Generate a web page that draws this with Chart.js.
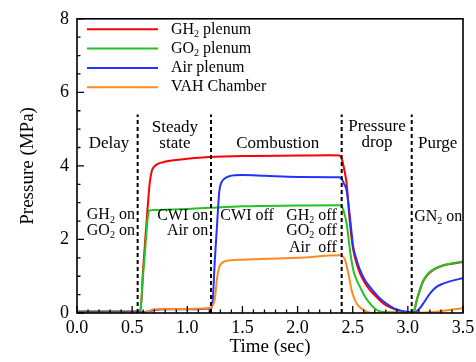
<!DOCTYPE html>
<html>
<head>
<meta charset="utf-8">
<script src="https://cdn.jsdelivr.net/npm/chart.js@4"></script>
<style>
  html, body { margin: 0; padding: 0; background: #fff; }
  #wrap { width: 476px; height: 362px; }
</style>
</head>
<body>
<div id="wrap"><canvas id="chart" width="476" height="362"></canvas></div>
<script>
// ── Data ────────────────────────────────────────────────────────────────────

const gh2Time = [0, 0.55, 0.575, 0.6, 0.62, 0.64, 0.66, 0.68, 0.7, 0.73, 0.78, 0.9, 1.2, 1.6, 2.0, 2.3, 2.38, 2.4, 2.42, 2.445, 2.475, 2.505, 2.535, 2.566, 2.61, 2.656, 2.72, 2.777, 2.85, 2.9, 3.0, 3.05, 3.08, 3.11, 3.14, 3.17, 3.2, 3.26, 3.32, 3.4, 3.5];
const gh2Pres = [0.04, 0.04, 0.05, 1.2, 2.05, 2.85, 3.55, 3.88, 3.98, 4.05, 4.1, 4.16, 4.24, 4.27, 4.28, 4.29, 4.28, 4.2, 3.95, 3.51, 2.43, 1.71, 1.35, 1.08, 0.82, 0.62, 0.42, 0.26, 0.14, 0.08, 0.02, 0.02, 0.33, 0.63, 0.87, 1.0, 1.1, 1.22, 1.29, 1.34, 1.39];

const go2Time = [0, 0.56, 0.575, 0.6, 0.62, 0.64, 0.655, 0.7, 1.0, 1.2, 1.5, 2.0, 2.38, 2.4, 2.42, 2.445, 2.475, 2.505, 2.535, 2.566, 2.61, 2.656, 2.7, 2.747, 2.8, 3.05, 3.08, 3.11, 3.14, 3.17, 3.2, 3.26, 3.32, 3.4, 3.5];
const go2Pres = [0.04, 0.04, 0.1, 1.06, 1.8, 2.55, 2.79, 2.8, 2.83, 2.86, 2.9, 2.92, 2.93, 2.9, 2.75, 2.43, 1.71, 1.17, 0.9, 0.71, 0.45, 0.26, 0.12, 0.04, 0.02, 0.02, 0.35, 0.65, 0.89, 1.02, 1.12, 1.23, 1.3, 1.35, 1.4];

const airTime = [0, 0.6, 0.65, 0.7, 0.8, 1.0, 1.2, 1.215, 1.23, 1.25, 1.27, 1.29, 1.31, 1.34, 1.38, 1.5, 1.7, 2.0, 2.38, 2.4, 2.42, 2.445, 2.475, 2.505, 2.535, 2.566, 2.61, 2.656, 2.72, 2.777, 2.85, 2.9, 3.0, 3.06, 3.1, 3.14, 3.2, 3.26, 3.32, 3.38, 3.5];
const airPres = [0.03, 0.03, 0.05, 0.08, 0.1, 0.1, 0.12, 0.13, 0.3, 1.45, 2.4, 3.3, 3.55, 3.66, 3.72, 3.75, 3.73, 3.7, 3.69, 3.65, 3.52, 3.33, 2.6, 1.8, 1.45, 1.17, 0.9, 0.71, 0.48, 0.32, 0.17, 0.1, 0.03, 0.02, 0.1, 0.26, 0.53, 0.71, 0.8, 0.86, 0.95];

const vahTime = [0, 0.6, 0.65, 0.7, 0.9, 1.2, 1.23, 1.25, 1.27, 1.29, 1.32, 1.36, 1.5, 2.0, 2.38, 2.4, 2.43, 2.46, 2.49, 2.52, 2.55, 2.6, 2.66, 3.0, 3.2, 3.32, 3.5];
const vahPres = [0.01, 0.01, 0.05, 0.1, 0.11, 0.13, 0.2, 0.4, 0.95, 1.25, 1.37, 1.42, 1.45, 1.5, 1.57, 1.55, 1.45, 1.08, 0.62, 0.35, 0.2, 0.08, 0.01, 0.0, 0.02, 0.06, 0.13];

const seriesNames = ['GH₂ plenum', 'GO₂ plenum', 'Air plenum', 'VAH Chamber'];

// phase boundaries (sec) and the height the dashed markers reach (MPa)
const phaseBounds = [0.55, 1.215, 2.4, 3.035];
const markerTop = 5.4;

const xTicks = [0, 0.5, 1.0, 1.5, 2.0, 2.5, 3.0, 3.5];
const yTicks = [0, 2, 4, 6, 8];

// phase titles: lines of text anchored at (t, p) in data units
const phaseLabels = [
    { lines: ['Delay'], t: 0.29, p: 4.61 },
    { lines: ['Steady', 'state'], t: 0.888, p: 5.04 },
    { lines: ['Combustion'], t: 1.82, p: 4.61 },
    { lines: ['Pressure', 'drop'], t: 2.72, p: 5.06 },
    { lines: ['Purge'], t: 3.27, p: 4.61 },
];

// valve events
const eventNotes = [
    { text: 'GH₂ on', t: 0.525, p: 2.66, align: 'right' },
    { text: 'GO₂ on', t: 0.525, p: 2.24, align: 'right' },
    { text: 'CWI on', t: 1.19, p: 2.64, align: 'right' },
    { text: 'Air on', t: 1.19, p: 2.23, align: 'right' },
    { text: 'CWI off', t: 1.3, p: 2.64, align: 'left' },
    { text: 'GH₂ off', t: 2.355, p: 2.64, align: 'right' },
    { text: 'GO₂ off', t: 2.355, p: 2.24, align: 'right' },
    { text: 'Air  off', t: 2.355, p: 1.76, align: 'right' },
    { text: 'GN₂ on', t: 3.058, p: 2.62, align: 'left' },
];

// ── Styling ─────────────────────────────────────────────────────────────────

const SERIF = "'Liberation Serif', 'Times New Roman', serif";
const colors = ['#ff0000', '#22c322', '#2233ff', '#ff8a1f'];

Chart.defaults.font.family = SERIF;
Chart.defaults.color = '#000';

const toPoints = (ts, ps) => ts.map((t, i) => ({ x: t, y: ps[i] }));

const curveSets = [
    [gh2Time, gh2Pres],
    [go2Time, go2Pres],
    [airTime, airPres],
    [vahTime, vahPres],
].map(([ts, ps], i) => ({
    label: seriesNames[i],
    data: toPoints(ts, ps),
    borderColor: colors[i],
    borderWidth: 2,
    pointRadius: 0,
    cubicInterpolationMode: 'monotone',
    order: 4 - i, // later series sit on top, like the original
}));

const markerSets = phaseBounds.map((t) => ({
    label: 'phase',
    data: [{ x: t, y: 0 }, { x: t, y: markerTop }],
    borderColor: '#000',
    borderWidth: 2,
    borderDash: [4, 3],
    pointRadius: 0,
    order: 0,
}));

// text with "₂" drawn as a real lowered, smaller 2
function drawRich(ctx, str, x, y, align, size) {
    const parts = str.split(/(₂)/).filter((s) => s.length);
    const big = `${size}px ${SERIF}`;
    const small = `${Math.round(size * 0.65)}px ${SERIF}`;
    let width = 0;
    parts.forEach((s) => {
        ctx.font = s === '₂' ? small : big;
        width += ctx.measureText(s === '₂' ? '2' : s).width;
    });
    let cx = align === 'right' ? x - width : align === 'center' ? x - width / 2 : x;
    ctx.textAlign = 'left';
    ctx.textBaseline = 'middle';
    parts.forEach((s) => {
        if (s === '₂') {
            ctx.font = small;
            ctx.fillText('2', cx, y + size * 0.3);
            cx += ctx.measureText('2').width;
        } else {
            ctx.font = big;
            ctx.fillText(s, cx, y);
            cx += ctx.measureText(s).width;
        }
    });
}

// frame, inward ticks, legend and annotations
const overlay = {
    id: 'overlay',
    afterDatasetsDraw(chart) {
        const { ctx, chartArea: a, scales: { x, y } } = chart;
        ctx.save();
        ctx.strokeStyle = '#000';
        ctx.fillStyle = '#000';
        ctx.lineWidth = 1.6;
        ctx.strokeRect(a.left, a.top, a.right - a.left, a.bottom - a.top);

        ctx.lineWidth = 1.3;
        ctx.beginPath();
        for (let i = 0; i <= 35; i++) {
            const px = x.getPixelForValue(i / 10);
            const len = i % 5 === 0 ? 7 : 3.5;
            ctx.moveTo(px, a.bottom);
            ctx.lineTo(px, a.bottom - len);
        }
        for (let i = 0; i <= 16; i++) {
            const py = y.getPixelForValue(i / 2);
            const len = i % 4 === 0 ? 7 : 3.5;
            ctx.moveTo(a.left, py);
            ctx.lineTo(a.left + len, py);
        }
        ctx.stroke();

        // legend
        seriesNames.forEach((name, i) => {
            const ly = 29.3 + i * 19.3;
            ctx.strokeStyle = colors[i];
            ctx.lineWidth = 2;
            ctx.beginPath();
            ctx.moveTo(87, ly);
            ctx.lineTo(158, ly);
            ctx.stroke();
            drawRich(ctx, name, 171, ly, 'left', 16);
        });

        phaseLabels.forEach(({ lines, t, p }) => {
            const px = x.getPixelForValue(t);
            const py = y.getPixelForValue(p);
            lines.forEach((line, k) => drawRich(ctx, line, px, py + k * 16, 'center', 17));
        });

        eventNotes.forEach(({ text, t, p, align }) => {
            drawRich(ctx, text, x.getPixelForValue(t), y.getPixelForValue(p), align, 16);
        });
        ctx.restore();
    },
};

new Chart(document.getElementById('chart'), {
    type: 'line',
    data: { datasets: [...curveSets, ...markerSets] },
    options: {
        responsive: false,
        animation: false,
        layout: { padding: { top: 16, right: 13, left: 0, bottom: 0 } },
        plugins: { legend: { display: false }, tooltip: { enabled: false } },
        scales: {
            x: {
                type: 'linear',
                min: 0,
                max: 3.5,
                afterFit: (s) => {
                    s.height = 49;
                    // let the last tick label overhang the frame, as in the original
                    s.paddingLeft = 0;
                    s.paddingRight = 0;
                },
                afterBuildTicks: (s) => { s.ticks = xTicks.map((v) => ({ value: v })); },
                grid: { display: false, drawTicks: false },
                border: { display: false },
                ticks: {
                    autoSkip: false,
                    maxRotation: 0,
                    padding: 4,
                    font: { size: 18 },
                    callback: (v) => Number(v).toFixed(1),
                },
                title: { display: true, text: 'Time (sec)', font: { size: 19 }, padding: { top: 0, bottom: 4 } },
            },
            y: {
                min: 0,
                max: 8,
                afterFit: (s) => { s.width = 77; },
                afterBuildTicks: (s) => { s.ticks = yTicks.map((v) => ({ value: v })); },
                grid: { display: false, drawTicks: false },
                border: { display: false },
                ticks: { padding: 8, font: { size: 18 } },
                title: { display: true, text: 'Pressure (MPa)', font: { size: 19 }, padding: { top: 17, bottom: 0 } },
            },
        },
    },
    plugins: [overlay],
});
</script>
</body>
</html>
